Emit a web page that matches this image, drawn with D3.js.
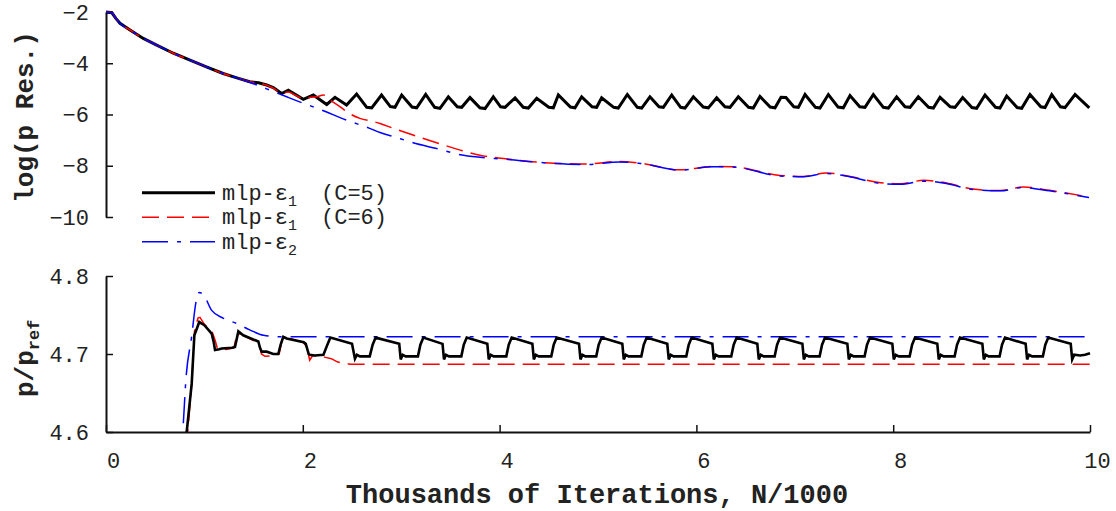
<!DOCTYPE html>
<html><head><meta charset="utf-8">
<script src="https://cdn.jsdelivr.net/npm/d3@7"></script>
<style>
html,body{margin:0;padding:0;background:#fff;}
svg{display:block;}
text{font-family:"Liberation Mono","Courier New",monospace;fill:#222;}
</style></head>
<body>
<svg id="chart" width="1116" height="511"></svg>
<script>
// ---------- data (x in thousands of iterations) ----------
const xTicks = [0, 2, 4, 6, 8, 10];
const topYTicks = [-2, -4, -6, -8, -10];
const botYTicks = [4.6, 4.7, 4.8];
const legendLabels = [["mlp-ε", "1", "(C=5)"], ["mlp-ε", "1", "(C=6)"], ["mlp-ε", "2", ""]];

// common initial decay of the pressure residual
const topEarly = [[0,-2.00],[0.06,-2.03],[0.10,-2.25],[0.142,-2.44],[0.244,-2.70],[0.379,-3.03],
  [0.515,-3.29],[0.684,-3.61],[0.854,-3.88],[1.02,-4.14],[1.19,-4.40],[1.33,-4.57]];

const topC5 = [[1.46,-4.72],[1.55,-4.76],[1.633,-4.85],[1.70,-4.95],[1.785,-5.18],[1.853,-5.05],
  [2.005,-5.41],[2.107,-5.24],[2.243,-5.61],[2.327,-5.33],[2.445,-5.63],[2.547,-5.20],[2.65,-5.72],[2.70,-5.74],
  [2.80,-5.24],[2.89,-5.69],[2.937,-5.72],[3.005,-5.24],[3.11,-5.71],[3.157,-5.74],[3.249,-5.22],[3.34,-5.72],[3.394,-5.76],
  [3.479,-5.31],[3.57,-5.70],[3.615,-5.72],[3.699,-5.34],[3.80,-5.74],[3.852,-5.77],[3.936,-5.31],[4.01,-5.70],[4.055,-5.72],
  [4.157,-5.35],[4.24,-5.72],[4.292,-5.75],[4.377,-5.37],[4.50,-5.72],[4.546,-5.74],[4.597,-5.24],[4.72,-5.71],[4.766,-5.74],
  [4.834,-5.31],[4.94,-5.70],[4.986,-5.72],[5.037,-5.35],[5.16,-5.72],[5.206,-5.75],[5.298,-5.22],[5.40,-5.72],[5.444,-5.75],
  [5.528,-5.31],[5.62,-5.70],[5.664,-5.72],[5.749,-5.24],[5.84,-5.72],[5.884,-5.75],[5.969,-5.31],[6.07,-5.71],[6.121,-5.74],
  [6.206,-5.35],[6.29,-5.70],[6.341,-5.72],[6.426,-5.31],[6.53,-5.72],[6.578,-5.75],[6.646,-5.30],[6.75,-5.71],[6.799,-5.74],
  [6.86,-5.33],[6.91,-5.34],[6.99,-5.70],[7.036,-5.72],[7.104,-5.22],[7.21,-5.72],[7.256,-5.75],[7.341,-5.22],[7.44,-5.71],[7.493,-5.74],
  [7.561,-5.26],[7.66,-5.70],[7.713,-5.72],[7.798,-5.22],[7.90,-5.72],[7.950,-5.75],[8.035,-5.31],[8.12,-5.70],[8.171,-5.72],
  [8.255,-5.31],[8.36,-5.72],[8.408,-5.75],[8.476,-5.33],[8.58,-5.70],[8.628,-5.72],[8.706,-5.34],[8.80,-5.73],[8.848,-5.76],
  [8.933,-5.24],[9.04,-5.72],[9.085,-5.75],[9.153,-5.28],[9.26,-5.73],[9.306,-5.76],[9.390,-5.22],[9.50,-5.70],[9.543,-5.73],
  [9.611,-5.22],[9.70,-5.70],[9.746,-5.73],[9.848,-5.22],[9.993,-5.74]];

const topC6 = [[1.46,-4.72],[1.55,-4.78],[1.633,-4.86],[1.70,-4.97],[1.785,-5.16],[1.85,-5.12],[1.94,-5.28],
  [2.02,-5.40],[2.08,-5.33],[2.14,-5.31],[2.21,-5.24],[2.28,-5.44],[2.38,-5.70],[2.445,-5.89],[2.58,-6.15],
  [2.72,-6.28],[2.785,-6.35],[2.92,-6.54],[3.12,-6.80],[3.36,-7.10],[3.60,-7.39],[3.80,-7.59],[4.04,-7.72],
  [4.55,-7.90],[4.88,-7.93],[5.22,-7.83],[5.43,-7.90],[5.83,-8.16],[6.17,-8.03],[6.37,-8.04],[6.85,-8.38],
  [7.09,-8.42],[7.32,-8.28],[7.56,-8.42],[7.87,-8.66],[8.07,-8.70],[8.31,-8.57],[8.54,-8.67],[8.81,-8.91],
  [9.09,-8.97],[9.32,-8.83],[9.59,-8.96],[9.99,-9.22]];

const topE2 = [[1.46,-4.74],[1.633,-5.00],[1.836,-5.31],[1.99,-5.54],[2.175,-5.80],[2.445,-6.22],[2.68,-6.54],
  [2.785,-6.70],[2.92,-6.86],[3.12,-7.10],[3.36,-7.33],[3.60,-7.57],[3.80,-7.67],[4.04,-7.74],[4.55,-7.91],
  [4.88,-7.95],[5.22,-7.85],[5.43,-7.91],[5.83,-8.17],[6.17,-8.04],[6.37,-8.05],[6.85,-8.40],[7.09,-8.43],
  [7.32,-8.30],[7.56,-8.43],[7.87,-8.69],[8.07,-8.72],[8.31,-8.60],[8.54,-8.69],[8.81,-8.93],[9.09,-8.98],
  [9.32,-8.85],[9.59,-8.98],[9.99,-9.24]];

const botC5 = [[0.78,4.55],[0.82,4.60],[0.871,4.662],[0.898,4.724],[0.948,4.741],[1.00,4.737],[1.074,4.726],
  [1.095,4.715],[1.108,4.705],[1.15,4.706],[1.176,4.707],[1.28,4.708],[1.311,4.709],[1.345,4.729],[1.395,4.724],
  [1.548,4.716],[1.565,4.708],[1.582,4.703],[1.633,4.703],[1.70,4.700],[1.751,4.700],[1.775,4.712],[1.802,4.722],
  [1.836,4.720],[2.01,4.715],[2.03,4.713],[2.06,4.700],[2.07,4.699],[2.12,4.698],[2.21,4.699],[2.25,4.712],[2.28,4.721],
  [2.50,4.713],[2.53,4.694],[2.55,4.699],[2.58,4.697],[2.68,4.697],[2.71,4.712],[2.74,4.721],
  [2.98,4.713],[2.995,4.693],[3.015,4.699],[3.045,4.697],[3.17,4.697],[3.195,4.712],[3.225,4.721],
  [3.42,4.713],[3.435,4.693],[3.455,4.699],[3.485,4.697],[3.611,4.697],[3.636,4.712],[3.666,4.721],
  [3.875,4.713],[3.89,4.693],[3.91,4.699],[3.94,4.697],[4.068,4.697],[4.093,4.712],[4.123,4.721],
  [4.333,4.713],[4.348,4.693],[4.368,4.699],[4.398,4.697],[4.525,4.697],[4.55,4.712],[4.58,4.721],
  [4.807,4.713],[4.822,4.693],[4.842,4.699],[4.872,4.697],[4.982,4.697],[5.007,4.712],[5.037,4.721],
  [5.247,4.713],[5.262,4.693],[5.282,4.699],[5.312,4.697],[5.44,4.697],[5.465,4.712],[5.495,4.721],
  [5.704,4.713],[5.719,4.693],[5.739,4.699],[5.769,4.697],[5.897,4.697],[5.922,4.712],[5.952,4.721],
  [6.162,4.713],[6.177,4.693],[6.197,4.699],[6.227,4.697],[6.354,4.697],[6.379,4.712],[6.409,4.721],
  [6.619,4.713],[6.634,4.693],[6.654,4.699],[6.684,4.697],[6.795,4.697],[6.82,4.712],[6.85,4.721],
  [7.077,4.713],[7.092,4.693],[7.112,4.699],[7.142,4.697],[7.252,4.697],[7.277,4.712],[7.307,4.721],
  [7.534,4.713],[7.549,4.693],[7.569,4.699],[7.599,4.697],[7.709,4.697],[7.734,4.712],[7.764,4.721],
  [7.991,4.713],[8.006,4.693],[8.026,4.699],[8.056,4.697],[8.167,4.697],[8.192,4.712],[8.222,4.721],
  [8.448,4.713],[8.463,4.693],[8.483,4.699],[8.513,4.697],[8.624,4.697],[8.649,4.712],[8.679,4.721],
  [8.906,4.713],[8.921,4.693],[8.941,4.699],[8.971,4.697],[9.081,4.697],[9.106,4.712],[9.136,4.721],
  [9.346,4.713],[9.361,4.693],[9.381,4.699],[9.411,4.697],[9.521,4.697],[9.546,4.712],[9.576,4.721],
  [9.804,4.713],[9.819,4.693],[9.84,4.699],[9.90,4.698],[9.95,4.699],[10.0,4.701]];

const botC6 = [[0.79,4.55],[0.83,4.60],[0.87,4.66],[0.90,4.73],[0.935,4.746],[0.955,4.747],[1.00,4.738],
  [1.04,4.733],[1.08,4.728],[1.108,4.718],[1.13,4.708],[1.17,4.705],[1.23,4.706],[1.30,4.708],[1.33,4.725],
  [1.37,4.726],[1.42,4.722],[1.52,4.716],[1.56,4.712],[1.58,4.700],[1.616,4.697],[1.70,4.698],[1.76,4.700],
  [1.79,4.718],[1.82,4.721],[1.90,4.719],[2.00,4.715],[2.04,4.710],[2.07,4.692],[2.10,4.698],[2.18,4.697],
  [2.22,4.696],[2.29,4.694],[2.35,4.690],[2.41,4.688],[2.48,4.687],[10.0,4.687]];

const botE2 = [[0.74,4.55],[0.78,4.60],[0.813,4.669],[0.87,4.722],[0.915,4.767],[0.948,4.779],[0.99,4.776],
  [1.074,4.756],[1.19,4.746],[1.33,4.739],[1.46,4.731],[1.60,4.724],[1.80,4.722],[3.0,4.722],[10.0,4.722]];

// ---------- drawing ----------
const svg = d3.select("#chart");
const x = d3.scaleLinear().domain([0, 10]).range([106, 1090]);
const yTop = d3.scaleLinear().domain([-10, -2]).range([217, 12]);
const yBot = d3.scaleLinear().domain([4.6, 4.8]).range([432, 276]);

const styles = [
  {color: "#000", width: 3, dash: null},
  {color: "#ff0000", width: 1.5, dash: "17,8"},
  {color: "#0000ff", width: 1.5, dash: "26,9,4,9"}
];

// top axis (left only)
const gTopAxis = svg.append("g").attr("transform", "translate(106,0)")
  .call(d3.axisLeft(yTop).tickValues(topYTicks).tickSize(-7).tickSizeOuter(0).tickPadding(17)
    .tickFormat(d => String(d).replace("-", "−")));
const gBotAxis = svg.append("g").attr("transform", "translate(106,0)")
  .call(d3.axisLeft(yBot).tickValues(botYTicks).tickSize(-7).tickSizeOuter(0).tickPadding(17)
    .tickFormat(d3.format(".1f")));
const gX = svg.append("g").attr("transform", "translate(0,432)")
  .call(d3.axisBottom(x).tickValues(xTicks).tickSize(-7).tickSizeOuter(0).tickPadding(20));

[gTopAxis, gBotAxis, gX].forEach(g => {
  g.select(".domain").attr("stroke", "#111").attr("stroke-width", 2);
  g.selectAll(".tick line").attr("stroke", "#111").attr("stroke-width", 1.5);
  g.selectAll(".tick text").attr("font-family", "Liberation Mono").attr("font-size", 22).attr("fill", "#222");
});
gX.selectAll(".tick text").attr("dx", 7);

// clip for bottom panel
svg.append("clipPath").attr("id", "clipBot").append("rect")
  .attr("x", 106).attr("y", 270).attr("width", 990).attr("height", 162);

const lineTop = d3.line().x(d => x(d[0])).y(d => yTop(d[1]));
const lineTopSmooth = d3.line().x(d => x(d[0])).y(d => yTop(d[1])).curve(d3.curveMonotoneX);
const lineBot = d3.line().x(d => x(d[0])).y(d => yBot(d[1]));
const lineBotSmooth = d3.line().x(d => x(d[0])).y(d => yBot(d[1])).curve(d3.curveMonotoneX);

function draw(g, gen, data, s, w) {
  g.append("path").datum(data).attr("d", gen).attr("fill", "none")
    .attr("stroke", s.color).attr("stroke-width", w || s.width)
    .attr("stroke-linejoin", "miter").attr("stroke-dasharray", s.dash);
}

const gTop = svg.append("g");
draw(gTop, lineTop, topEarly.concat(topC5), styles[0]);
draw(gTop, lineTopSmooth, topEarly.concat(topC6), styles[1]);
draw(gTop, lineTopSmooth, topEarly.concat(topE2), styles[2]);

const gBot = svg.append("g").attr("clip-path", "url(#clipBot)");
draw(gBot, lineBotSmooth, botE2, styles[2]);
draw(gBot, lineBot, botC6, styles[1]);
draw(gBot, lineBot, botC5, styles[0], 2.6);

// legend
const legY = [192.7, 217.2, 241.7];
legendLabels.forEach((lab, i) => {
  const s = styles[i];
  svg.append("line").attr("x1", 142).attr("x2", 215).attr("y1", legY[i]).attr("y2", legY[i])
    .attr("stroke", s.color).attr("stroke-width", s.width).attr("stroke-dasharray", s.dash);
  const t = svg.append("text").attr("x", 222).attr("y", legY[i] + 7).attr("font-size", 22);
  t.append("tspan").text(lab[0]);
  t.append("tspan").attr("font-size", 15).attr("dy", 6).text(lab[1]);
  if (lab[2]) t.append("tspan").attr("x", 321).attr("dy", -6).text(lab[2]);
});

// axis titles
svg.append("text").attr("transform", "translate(33,117) rotate(-90)")
  .attr("text-anchor", "middle").attr("font-size", 26).attr("font-weight", "bold").attr("fill", "#111")
  .text("log(p Res.)");
const pt = svg.append("text").attr("transform", "translate(33,397) rotate(-90)")
  .attr("text-anchor", "start").attr("font-size", 26).attr("font-weight", "bold").attr("fill", "#111");
pt.append("tspan").text("p/p");
pt.append("tspan").attr("font-size", 17).attr("dy", 6).text("ref");

svg.append("text").attr("x", 597).attr("y", 503).attr("text-anchor", "middle")
  .attr("font-size", 27).attr("font-weight", "bold").attr("fill", "#111")
  .text("Thousands of Iterations, N/1000");
</script>
</body></html>
